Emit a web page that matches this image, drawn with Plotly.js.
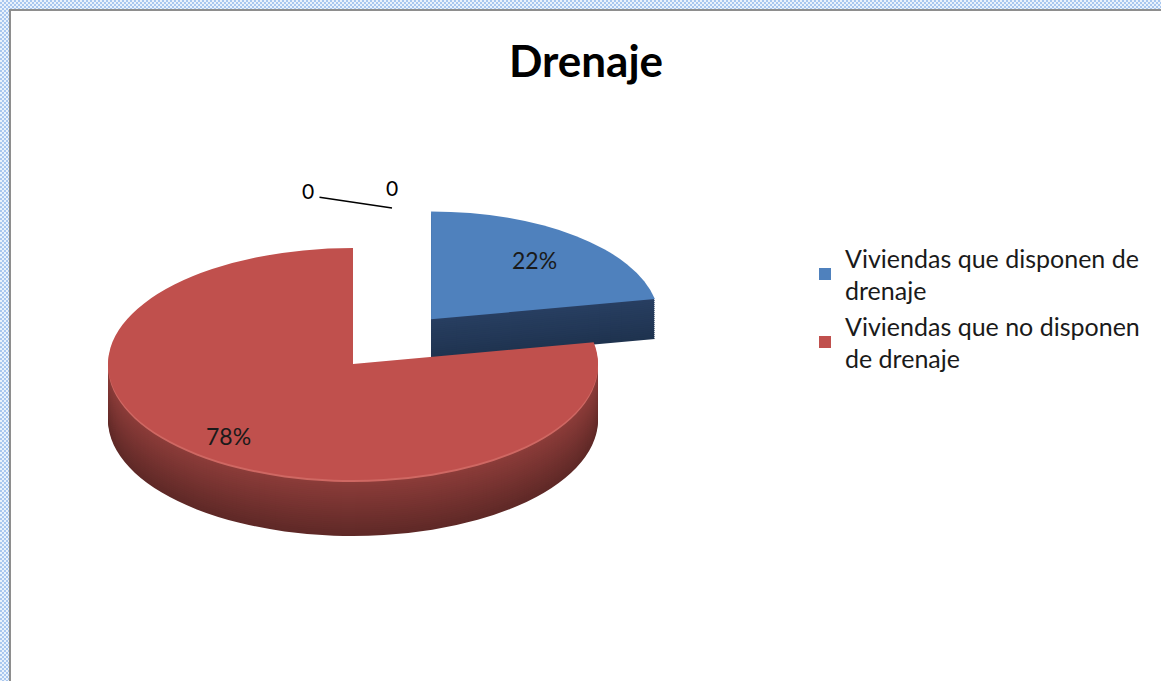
<!DOCTYPE html>
<html><head><meta charset="utf-8">
<script src="https://cdn.plot.ly/plotly-3.0.1.min.js"></script>
<style>
html,body{margin:0;padding:0;width:1161px;height:681px;overflow:hidden;}
body{background:repeating-conic-gradient(#a9c7ef 0 25%, #eaf2fc 0 50%) 0 0/4px 4px;}
#frame{position:absolute;left:9px;top:9px;width:1150px;height:670px;border-left:2px solid #8e8e8e;border-top:2px solid #8e8e8e;background:#fff;}
#chart{width:1150px;height:670px;}
</style></head><body>
<div id="frame"><div id="chart"></div></div>
<script>
// ---- data ----
const categories = ['Viviendas que disponen de<br>drenaje', 'Viviendas que no disponen<br>de drenaje'];
const values = [22, 78];
const zeroLabels = ['0', '0'];
const chartTitle = 'Drenaje';

// ---- style ----
const W = 1150, H = 670;
const FONT = 'Lato, "Open Sans", sans-serif';
const topColors = ['#4f81bd', '#c0504d'];
const PULL = [0.5, 0];
const G = {cx: 342, cy: 353, rx: 245, ry: 116};   // projected ellipse of the top face
const DEPTH = 56, BLUE_DEPTH = 40, STEP = 2;
const BLUE_PERSPECTIVE = 0.93;                     // farther slice looks smaller

function mix(c1, c2, t) {
  const a = [1, 3, 5].map(i => parseInt(c1.substr(i, 2), 16));
  const b = [1, 3, 5].map(i => parseInt(c2.substr(i, 2), 16));
  return 'rgb(' + a.map((v, i) => Math.round(v + (b[i] - v) * t)).join(',') + ')';
}
const sideLayers = [];
for (let d = DEPTH; d >= STEP; d -= STEP) {
  const t = d / DEPTH;
  const red = d <= 2 ? '#cf6863' : mix('#8e3d3a', '#5f2927', t);
  const blue = d <= BLUE_DEPTH ? mix('#283f62', '#1f334f', d / BLUE_DEPTH) : 'rgba(0,0,0,0)';
  sideLayers.push({d: d, colors: [blue, red]});
}

function pieTrace(colors, showlegend) {
  return {
    type: 'pie', labels: categories, values: values, sort: false,
    direction: 'clockwise', rotation: 0, pull: PULL,
    marker: {colors: colors, line: {width: 0}},
    textinfo: 'none', hoverinfo: 'skip', showlegend: showlegend,
    domain: {x: [0, 0.6], y: [0, 1]}
  };
}
const traces = sideLayers.map(s => pieTrace(s.colors, false));
traces.push(pieTrace(topColors, true));

// percentage labels placed along each slice bisector
const total = values.reduce((a, b) => a + b, 0);
const annotations = [];
const labelFactor = [0.66, 0.80];
let cum = 0;
values.forEach((v, i) => {
  const frac = v / total;
  const ang = (cum + frac / 2) * 2 * Math.PI;
  cum += frac;
  const rr = (PULL[i] + labelFactor[i]) * G.rx;
  const px = G.cx + rr * Math.sin(ang);
  const py = G.cy - rr * Math.cos(ang) * (G.ry / G.rx);
  annotations.push({
    xref: 'paper', yref: 'paper', x: px / W, y: 1 - py / H, xanchor: 'center', yanchor: 'middle',
    text: Math.round(frac * 100) + '%', showarrow: false,
    font: {family: FONT, size: 23, color: '#1a1a1a'}
  });
});
// labels of the zero-valued categories, with leader line
annotations.push({xref: 'paper', yref: 'paper', x: 297 / W, y: 1 - 179 / H, xanchor: 'center', yanchor: 'middle',
  text: zeroLabels[0], showarrow: false, font: {family: FONT, size: 21, color: '#000'}});
annotations.push({xref: 'paper', yref: 'paper', x: 381 / W, y: 1 - 176 / H, xanchor: 'center', yanchor: 'middle',
  text: zeroLabels[1], showarrow: false, font: {family: FONT, size: 21, color: '#000'}});
annotations.push({xref: 'paper', yref: 'paper', x: 381 / W, y: 1 - 197 / H, text: '',
  showarrow: true, arrowhead: 0, arrowwidth: 1.6, arrowcolor: '#000', ax: -74, ay: -11});

const layout = {
  width: W, height: H, margin: {l: 0, r: 0, t: 0, b: 0},
  paper_bgcolor: '#fff', plot_bgcolor: '#fff',
  title: {text: '<b>' + chartTitle + '</b>', font: {family: FONT, size: 44, color: '#000'},
    x: 0.5, xref: 'paper', xanchor: 'center', y: 1 - 51 / H, yanchor: 'middle'},
  showlegend: true,
  legend: {x: 794 / W, xanchor: 'left', y: 1 - 224 / H, yanchor: 'top',
    font: {family: FONT, size: 25, color: '#1a1a1a'}, bgcolor: 'rgba(0,0,0,0)'},
  annotations: annotations
};

const gd = document.getElementById('chart');
Plotly.newPlot(gd, traces, layout, {staticPlot: true, displayModeBar: false}).then(() => {
  const groups = gd.querySelectorAll('.pielayer .trace');
  const blueMid = (values[0] / total / 2) * 2 * Math.PI;
  groups.forEach((g, i) => {
    const cd0 = gd.calcdata[i][0];
    const cx = cd0.cx, cy = cd0.cy, r = cd0.r;
    const d = i < sideLayers.length ? sideLayers[i].d : 0;
    g.setAttribute('transform',
      'translate(' + G.cx + ',' + (G.cy + d) + ') scale(' + (G.rx / r) + ',' + (G.ry / r) + ') translate(' + (-cx) + ',' + (-cy) + ')');
    // perspective: shrink the pulled (far) slice about its own apex
    const qx = cx + PULL[0] * r * Math.sin(blueMid), qy = cy - PULL[0] * r * Math.cos(blueMid);
    const s0 = g.querySelectorAll('.slice')[0];
    if (s0) {
      const prev = s0.getAttribute('transform') || '';
      s0.setAttribute('transform', 'translate(' + qx + ',' + qy + ') scale(' + BLUE_PERSPECTIVE + ') translate(' + (-qx) + ',' + (-qy) + ') ' + prev);
    }
  });
});
</script>
</body></html>
